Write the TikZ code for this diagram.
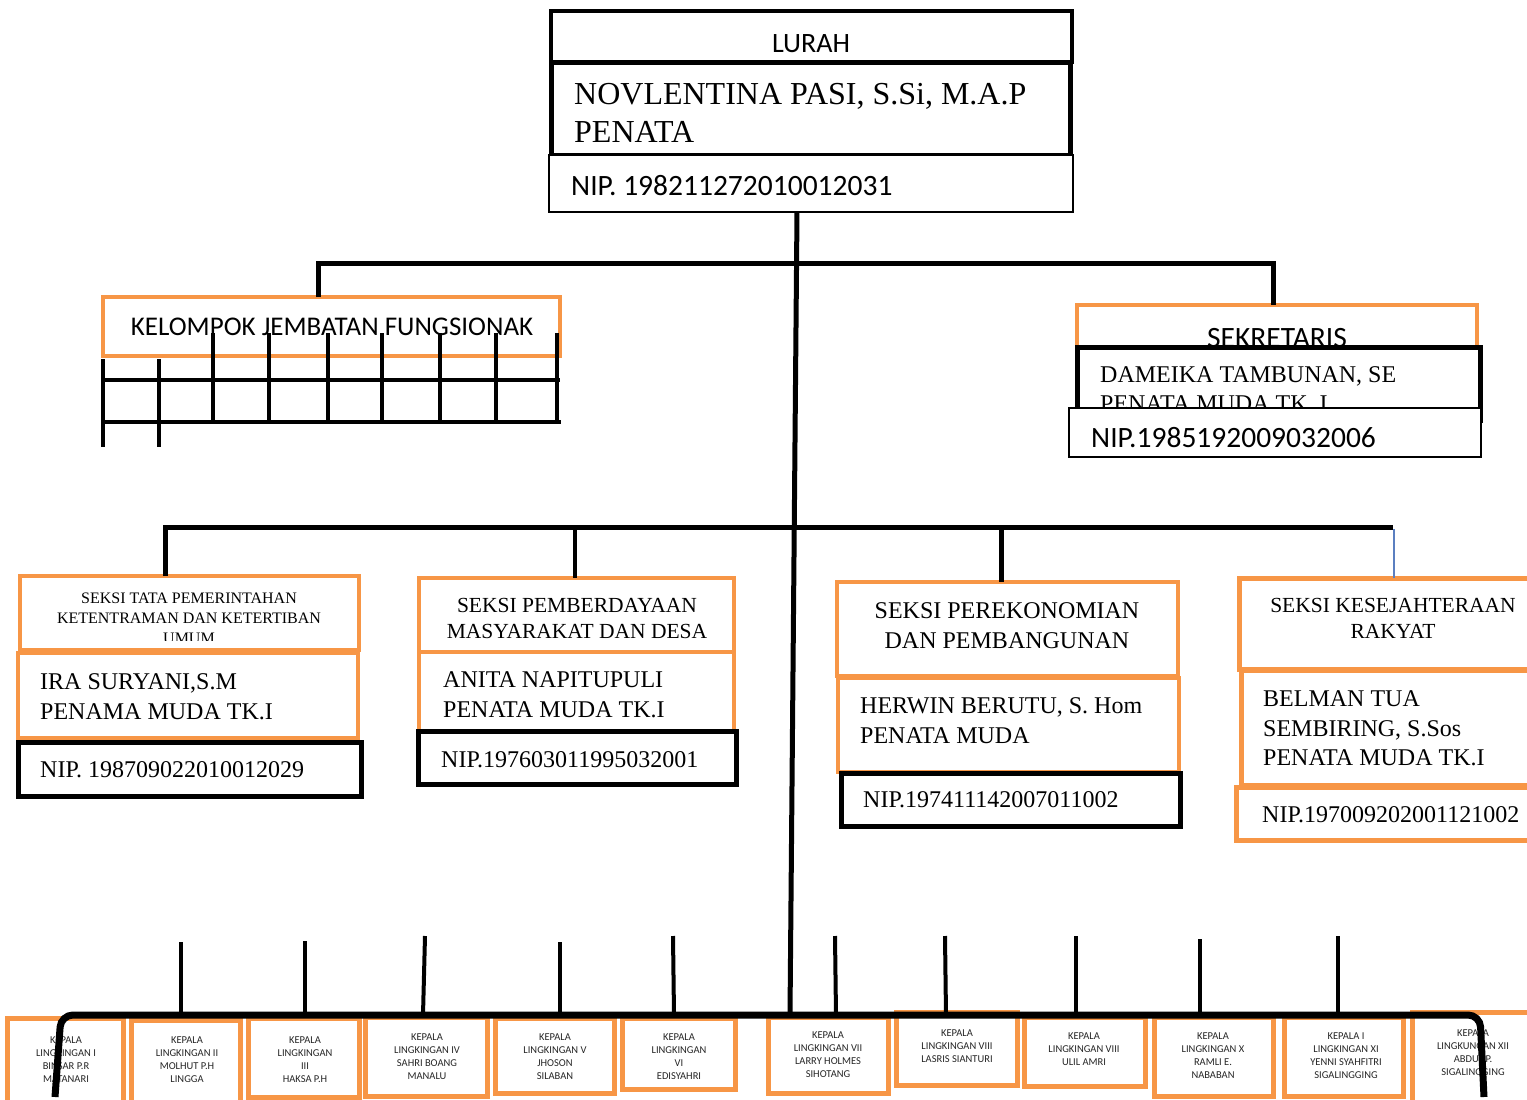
\documentclass[tikz,border=0pt]{standalone}
\usepackage{fontspec}
\setmainfont{Liberation Serif}
\newfontfamily\calib{Carlito}
\definecolor{orng}{HTML}{F79646}
\definecolor{lnkblue}{HTML}{5B7FC0}
\newcommand\ubox[6]{\node[#2, anchor=north west, outer sep=0pt, inner sep=0pt, minimum width={#5-#3}, minimum height={#6-#4}] (#1) at (#3,#4) {};}
\newcommand\putL[5]{\node[txt, #2] (#1) at (#3,#4) {#5};}
\newcommand\putC[5]{\node[ctxt, #2] (#1) at (#3,#4) {#5};}
\begin{document}
\begin{tikzpicture}[x=1pt,y=-1pt,
  obox/.style={draw=orng, line width=4pt, fill=white},
  okbox/.style={draw=orng, line width=5pt, fill=white},
  bbox/.style={draw=black, line width=5pt, fill=white},
  btop/.style={draw=black, line width=4pt, fill=white},
  tbox/.style={draw=black, line width=2.5pt, fill=white},
  wire/.style={draw=black, line width=5pt},
  gridln/.style={draw=black, line width=4pt},
  drop/.style={draw=black, line width=4pt},
  bus/.style={draw=black, line width=7pt, rounded corners=12pt},
  txt/.style={inner sep=0pt, anchor=base west},
  ctxt/.style={inner sep=0pt, anchor=base},
  ktext/.style={font=\calib\fontsize{10.5}{13}\selectfont, align=center, anchor=north, inner sep=0pt, text=black!85},
  f16/.style={font=\fontsize{16}{19}\selectfont},
  f215/.style={font=\fontsize{21.5}{26}\selectfont},
  f24/.style={font=\fontsize{24}{29}\selectfont},
  f32/.style={font=\fontsize{32}{38}\selectfont},
  c265/.style={font=\calib\fontsize{27}{32}\selectfont},
  c28/.style={font=\calib\fontsize{28}{34}\selectfont},
  c29/.style={font=\calib\fontsize{29.5}{35}\selectfont},
]
\useasboundingbox (0,0) rectangle (1527,1100);
\fill[white] (0,0) rectangle (1527,1100);
\clip (0,0) rectangle (1527,1100);

% ---------- LURAH ----------
\ubox{lurahT}{btop}{551}{11}{1072}{62}
\ubox{lurahN}{bbox}{551}{62}{1070}{155}
\ubox{lurahP}{tbox}{549}{155}{1073}{212}
\putC{tLurah}{c28}{811}{52}{LURAH}
\putL{tLurahA}{f32}{574}{104}{NOVLENTINA PASI, S.Si, M.A.P}
\putL{tLurahB}{f32}{574}{142}{PENATA}
\putL{tLurahC}{c29}{571}{195}{NIP. 198211272010012031}

% ---------- KELOMPOK ----------
\ubox{kel}{obox}{103}{297}{560}{356}
\putC{tKel}{c265}{332}{335}{KELOMPOK JEMBATAN FUNGSIONAK}
\draw[gridln] (103,380) -- (560,380);
\draw[gridln] (103,422) -- (561,422);
\draw[gridln] (103,359) -- (103,447);
\draw[gridln] (159,359) -- (159,447);
\foreach \gx in {213,269,328,382,440,496,557}{
  \draw[gridln] (\gx,333) -- (\gx,422);
}

% ---------- SEKRETARIS ----------
\ubox{sekT}{obox}{1077}{305}{1477}{360}
\putC{tSek}{c29}{1277}{347}{SEKRETARIS}
\ubox{sekN}{bbox}{1077}{347}{1480}{420}
\putL{tSekA}{f24}{1100}{382}{DAMEIKA TAMBUNAN, SE}
\putL{tSekB}{f24}{1100}{411}{PENATA MUDA TK. I}
\ubox{sekP}{tbox}{1069}{408}{1481}{457}
\putL{tSekC}{c29}{1091}{447}{NIP.1985192009032006}

% ---------- SEKSI 1 ----------
\ubox{s1h}{obox}{20}{576}{359}{650}
\putC{tS1a}{f16}{189}{603.5}{SEKSI TATA PEMERINTAHAN}
\putC{tS1b}{f16}{189}{623.5}{KETENTRAMAN DAN KETERTIBAN}
\begin{scope}
  \clip (20,570) rectangle (360,640);
  \putC{tS1c}{f16}{189}{643.5}{UMUM}
\end{scope}
\ubox{s1n}{obox}{18}{653}{358}{738}
\putL{tS1d}{f24}{40}{689}{IRA SURYANI,S.M}
\putL{tS1e}{f24}{40}{719}{PENAMA MUDA TK.I}
\ubox{s1p}{bbox}{18}{742}{361}{796}
\putL{tS1f}{f24}{40}{777}{NIP. 198709022010012029}

% ---------- SEKSI 2 ----------
\ubox{s2h}{obox}{419}{578}{734}{652}
\putC{tS2a}{f215}{577}{612}{SEKSI PEMBERDAYAAN}
\putC{tS2b}{f215}{577}{638}{MASYARAKAT DAN DESA}
\ubox{s2n}{obox}{419}{652}{734}{731}
\putL{tS2c}{f24}{443}{687}{ANITA NAPITUPULI}
\putL{tS2d}{f24}{443}{717}{PENATA MUDA TK.I}
\ubox{s2p}{bbox}{418}{731}{736}{784}
\putL{tS2e}{f24}{441}{767}{NIP.197603011995032001}

% ---------- SEKSI 3 ----------
\ubox{s3h}{obox}{837}{582}{1178}{676}
\putC{tS3a}{f24}{1007}{618}{SEKSI PEREKONOMIAN}
\putC{tS3b}{f24}{1007}{648}{DAN PEMBANGUNAN}
\ubox{s3n}{obox}{838}{678}{1179}{772}
\putL{tS3c}{f24}{860}{713}{HERWIN BERUTU, S. Hom}
\putL{tS3d}{f24}{860}{743}{PENATA MUDA}
\ubox{s3p}{bbox}{841}{773}{1180}{826}
\putL{tS3e}{f24}{863}{807}{NIP.197411142007011002}

% ---------- SEKSI 4 ----------
\ubox{s4h}{okbox}{1239}{578}{1545}{669}
\putC{tS4a}{f215}{1393}{612}{SEKSI KESEJAHTERAAN}
\putC{tS4b}{f215}{1393}{638}{RAKYAT}
\ubox{s4n}{okbox}{1241}{670}{1545}{785}
\putL{tS4c}{f24}{1263}{706}{BELMAN TUA}
\putL{tS4d}{f24}{1263}{736}{SEMBIRING, S.Sos}
\putL{tS4e}{f24}{1263}{765}{PENATA MUDA TK.I}
\ubox{s4p}{okbox}{1236}{787}{1545}{840}
\putL{tS4f}{f24}{1262}{822}{NIP.197009202001121002}

% ---------- KEPALA LINGKUNGAN boxes ----------
\ubox{k1}{okbox}{7}{1018}{123}{1104}
\node[ktext] (k1t) at (66,1037) {KEPALA\\LINGKINGAN I\\BINSAR P.R\\MATANARI};
\ubox{k2}{okbox}{131}{1020}{240}{1104}
\node[ktext] (k2t) at (187,1037) {KEPALA\\LINGKINGAN II\\MOLHUT P.H\\LINGGA};
\ubox{k3}{okbox}{248}{1018}{359}{1097}
\node[ktext] (k3t) at (305,1037) {KEPALA\\LINGKINGAN\\III\\HAKSA P.H};
\ubox{k4}{okbox}{365}{1017}{487}{1096}
\node[ktext] (k4t) at (427,1034) {KEPALA\\LINGKINGAN IV\\SAHRI BOANG\\MANALU};
\ubox{k5}{okbox}{495}{1018}{614}{1093}
\node[ktext] (k5t) at (555,1034) {KEPALA\\LINGKINGAN V\\JHOSON\\SILABAN};
\ubox{k6}{okbox}{622}{1018}{735}{1089}
\node[ktext] (k6t) at (679,1034) {KEPALA\\LINGKINGAN\\VI\\EDISYAHRI};
\ubox{k7}{okbox}{768}{1017}{888}{1093}
\node[ktext] (k7t) at (828,1032) {KEPALA\\LINGKINGAN VII\\LARRY HOLMES\\SIHOTANG};
\ubox{k8}{okbox}{896}{1012}{1017}{1085}
\node[ktext] (k8t) at (957,1030) {KEPALA\\LINGKINGAN VIII\\LASRIS SIANTURI};
\ubox{k9}{okbox}{1024}{1017}{1145}{1086}
\node[ktext] (k9t) at (1084,1033) {KEPALA\\LINGKINGAN VIII\\ULIL AMRI};
\ubox{k10}{okbox}{1154}{1017}{1273}{1096}
\node[ktext] (k10t) at (1213,1033) {KEPALA\\LINGKINGAN X\\RAMLI E.\\NABABAN};
\ubox{k11}{okbox}{1284}{1017}{1403}{1096}
\node[ktext] (k11t) at (1346,1033) {KEPALA I\\LINGKINGAN XI\\YENNI SYAHFITRI\\SIGALINGGING};
\ubox{k12}{okbox}{1412}{1012}{1545}{1106}
\node[ktext] (k12t) at (1473,1030) {KEPALA\\LINGKUNGAN XII\\ABDUL P.\\SIGALINGGING};

% ---------- connectors ----------
\coordinate (tr0) at (797,212);
\coordinate (tr1) at (790,1015);
\draw[wire] (tr0) -- (tr1);

\coordinate (h1l) at (318,263);
\coordinate (h1r) at (1273,263);
\draw[wire] (kel.north -| h1l) -- (h1l) -- (h1r) -- (sekT.north -| h1r);

\coordinate (h2l) at (165,527);
\coordinate (h2r) at (1393,527);
\draw[wire] (s1h.north -| h2l) -- (h2l) -- (h2r);
\coordinate (h2b) at (575,527);
\draw[wire, line width=3.5pt] (h2b) -- (s2h.north -| h2b);
\coordinate (h2c) at (1001,527);
\draw[wire] (h2c) -- (s3h.north -| h2c);
\coordinate (h2d) at (1394,529);
\draw[draw=lnkblue, line width=1.5pt] (h2d) -- (s4h.north -| h2d);

% bottom bus
\coordinate (busl) at (55,1097);
\coordinate (busr) at (1484,1097);
\draw[bus] (busl) -- (61,1015) -- (1480,1015) -- (busr);
\foreach \dx/\dy/\ex in {181/942/181, 305/941/305, 425/936/423, 560/942/560, 673/936/674, 835/936/836, 945/936/946, 1076/936/1076, 1200/939/1200, 1338/936/1338}{
  \coordinate (dtop) at (\dx,\dy);
  \draw[drop] (dtop) -- (\ex,1015);
}
\end{tikzpicture}
\end{document}
